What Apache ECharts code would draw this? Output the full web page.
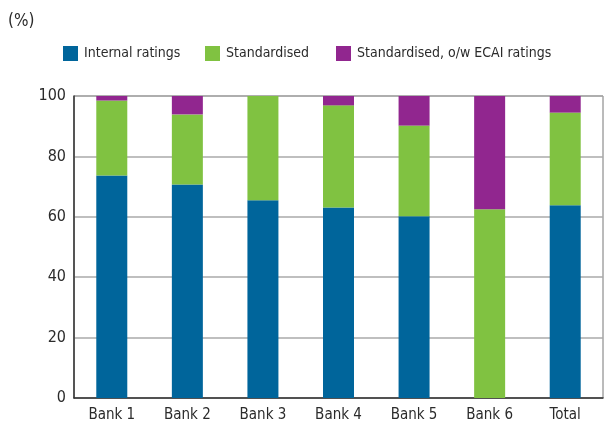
<!DOCTYPE html>
<html>
<head>
<meta charset="utf-8">
<script src="https://cdn.jsdelivr.net/npm/echarts@6/dist/echarts.min.js"></script>
<style>
  html, body { margin: 0; padding: 0; background: #fff; }
  #chart { width: 606px; height: 425px; }
</style>
</head>
<body>
<div id="chart"></div>
<script>
// Share of exposures by approach, per bank (%)
const categories = ['Bank 1', 'Bank 2', 'Bank 3', 'Bank 4', 'Bank 5', 'Bank 6', 'Total'];
const internalRatings = [73.7, 70.7, 65.5, 63.1, 60.2, 0, 63.8];
const standardised = [24.8, 23.2, 34.5, 33.8, 30.0, 62.5, 30.7];
const standardisedEcai = [1.5, 6.1, 0, 3.1, 9.8, 37.5, 5.5];
const yTicks = [0, 20, 40, 60, 80, 100];

const seriesNames = ['Internal ratings', 'Standardised', 'Standardised, o/w ECAI ratings'];
const seriesColors = ['#00659b', '#80c241', '#91268f'];
const seriesData = [internalRatings, standardised, standardisedEcai];

const FONT = '"Liberation Sans Narrow", "Arial Narrow", "DejaVu Sans Condensed", sans-serif';
const TEXT_COLOR = '#2b2b2b';

const legendLefts = [63, 205, 336];

const chart = echarts.init(document.getElementById('chart'), null, { renderer: 'canvas' });

chart.setOption({
  animation: false,
  backgroundColor: '#ffffff',
  textStyle: { fontFamily: FONT, color: TEXT_COLOR },
  graphic: [{
    type: 'text',
    left: 8,
    top: 13,
    style: { text: '(%)', font: '17px ' + FONT, fill: TEXT_COLOR }
  }],
  legend: seriesNames.map((name, i) => ({
    data: [name],
    left: legendLefts[i],
    top: 46,
    itemWidth: 15,
    itemHeight: 15,
    itemGap: 0,
    padding: 0,
    icon: 'rect',
    selectedMode: false,
    textStyle: { fontFamily: FONT, fontSize: 14, color: TEXT_COLOR, padding: [0, 0, 0, 1] }
  })),
  grid: {
    left: 74,
    right: 3,
    top: 96,
    bottom: 27,
    show: true,
    borderColor: '#777777',
    borderWidth: 1
  },
  xAxis: {
    type: 'category',
    data: categories,
    axisLine: { show: true, lineStyle: { color: '#333', width: 1.5 } },
    axisTick: { show: false },
    axisLabel: { fontFamily: FONT, fontSize: 15, color: TEXT_COLOR, margin: 10 }
  },
  yAxis: {
    type: 'value',
    min: yTicks[0],
    max: yTicks[yTicks.length - 1],
    interval: yTicks[1] - yTicks[0],
    axisLine: { show: true, lineStyle: { color: '#333', width: 1.5 } },
    axisTick: { show: false },
    axisLabel: { fontFamily: FONT, fontSize: 16, color: TEXT_COLOR, margin: 8 },
    splitLine: { show: true, lineStyle: { color: '#aaaaaa', width: 1.5 } }
  },
  series: seriesNames.map((name, i) => ({
    name: name,
    type: 'bar',
    stack: 'share',
    barWidth: 31,
    data: seriesData[i],
    itemStyle: { color: seriesColors[i] }
  }))
});
</script>
</body>
</html>
